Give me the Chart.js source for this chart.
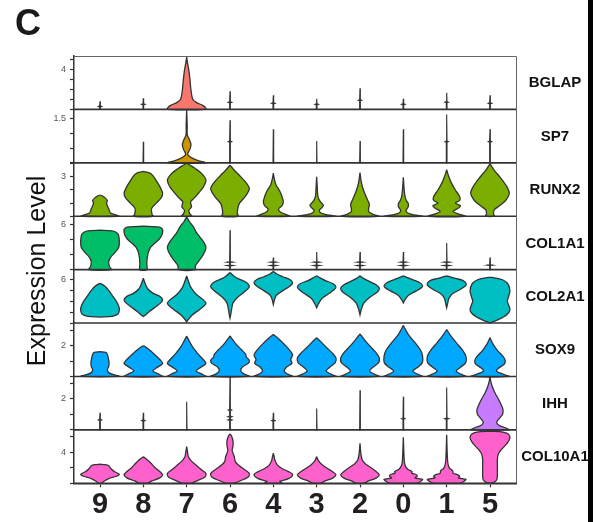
<!DOCTYPE html>
<html>
<head>
<meta charset="utf-8">
<script src="https://cdn.jsdelivr.net/npm/chart.js@4.4.0/dist/chart.umd.min.js"></script>
<style>
  html, body { margin: 0; padding: 0; background: #fff; }
  #plot { display: block; }
</style>
</head>
<body>
<canvas id="plot" width="597" height="522"></canvas>
<script>
const panelLetter = 'C';
const yTitle = 'Expression Level';
const clusters = ['9', '8', '7', '6', '4', '3', '2', '0', '1', '5'];
const genes = ['BGLAP', 'SP7', 'RUNX2', 'COL1A1', 'COL2A1', 'SOX9', 'IHH', 'COL10A1'];
const geneColors = ['#F8766D', '#CD9600', '#7CAE00', '#00BE67', '#00BFC4', '#00A9FF', '#C77CFF', '#FF61CC'];

// per-gene y axis range, tick step and the one tick that gets a label
const yMin = [0, 0, 0, 0, 2, 0, 0, 0];
const yMax = [5.3, 1.82, 4.07, 7.1, 6.9, 3.47, 3.43, 6.83];
const yStep = [1, 0.5, 1, 2, 1, 1, 1, 2];
const yLabelled = [4, 1.5, 3, 6, 6, 2, 2, 4];

// violin outlines: [expression, half width] from bottom to top, one per cluster
const bglapViolins = [
  [[0, 0.008], [0.25, 0.008], [0.3, 0.04], [0.35, 0.008], [0.8, 0]],
  [[0, 0.008], [0.45, 0.008], [0.5, 0.04], [0.55, 0.008], [1.1, 0]],
  [[0, 0.445], [0.2, 0.43], [0.4, 0.37], [0.7, 0.22], [1.0, 0.14], [1.9, 0.1], [3.0, 0.075], [3.9, 0.05], [4.6, 0.02], [5.2, 0]],
  [[0, 0.008], [0.65, 0.008], [0.7, 0.04], [0.75, 0.008], [1.8, 0]],
  [[0, 0.008], [0.55, 0.008], [0.6, 0.04], [0.65, 0.008], [1.4, 0]],
  [[0, 0.008], [0.45, 0.008], [0.5, 0.04], [0.55, 0.008], [1.05, 0]],
  [[0, 0.008], [0.85, 0.008], [0.9, 0.04], [0.95, 0.008], [2.1, 0]],
  [[0, 0.008], [0.45, 0.008], [0.5, 0.04], [0.55, 0.008], [1.05, 0]],
  [[0, 0.008], [0.67, 0.008], [0.72, 0.04], [0.77, 0.008], [1.65, 0]],
  [[0, 0.008], [0.55, 0.008], [0.6, 0.04], [0.65, 0.008], [1.4, 0]]
];
const sp7Violins = [
  null,
  [[0, 0.008], [0.72, 0]],
  [[0, 0.445], [0.06, 0.3], [0.15, 0.14], [0.25, 0.04], [0.32, 0.025], [0.45, 0.07], [0.62, 0.1], [0.8, 0.06], [0.95, 0.015], [1.3, 0.012], [1.79, 0]],
  [[0, 0.008], [0.7, 0.008], [0.72, 0.04], [0.74, 0.008], [1.45, 0]],
  [[0, 0.008], [1.14, 0]],
  [[0, 0.008], [0.74, 0]],
  [[0, 0.008], [0.74, 0]],
  [[0, 0.008], [1.14, 0]],
  [[0, 0.008], [0.7, 0.008], [0.72, 0.04], [0.74, 0.008], [1.65, 0]],
  [[0, 0.008], [0.7, 0.008], [0.72, 0.04], [0.74, 0.008], [1.14, 0]]
];
const runx2Violins = [
  [[0, 0.44], [0.1, 0.36], [0.25, 0.24], [0.5, 0.21], [0.8, 0.17], [1.0, 0.15], [1.2, 0.17], [1.4, 0.12], [1.55, 0.05], [1.62, 0]],
  [[0, 0.23], [0.15, 0.2], [0.6, 0.19], [1.0, 0.3], [1.4, 0.41], [1.75, 0.445], [2.2, 0.39], [2.7, 0.3], [3.1, 0.22], [3.3, 0.14], [3.42, 0]],
  [[0, 0.12], [0.2, 0.07], [0.45, 0.05], [0.7, 0.11], [0.9, 0.1], [1.1, 0.09], [1.4, 0.18], [1.75, 0.27], [2.2, 0.38], [2.75, 0.445], [3.25, 0.35], [3.65, 0.19], [3.9, 0.07], [4.05, 0]],
  [[0, 0.19], [0.2, 0.17], [0.6, 0.18], [1.0, 0.22], [1.5, 0.35], [2.1, 0.445], [2.6, 0.36], [3.1, 0.22], [3.5, 0.1], [3.9, 0]],
  [[0, 0.38], [0.12, 0.3], [0.3, 0.17], [0.55, 0.12], [0.8, 0.2], [1.1, 0.23], [1.5, 0.2], [1.9, 0.15], [2.4, 0.06], [2.9, 0.02], [3.28, 0]],
  [[0, 0.44], [0.1, 0.25], [0.25, 0.1], [0.45, 0.06], [0.65, 0.12], [0.85, 0.155], [1.05, 0.1], [1.3, 0.05], [1.6, 0.025], [2.3, 0.012], [3.0, 0]],
  [[0, 0.43], [0.15, 0.3], [0.35, 0.2], [0.6, 0.2], [0.9, 0.215], [1.2, 0.18], [1.5, 0.14], [2.0, 0.08], [2.6, 0.03], [3.33, 0]],
  [[0, 0.44], [0.1, 0.25], [0.25, 0.1], [0.45, 0.06], [0.7, 0.11], [0.95, 0.115], [1.2, 0.07], [1.5, 0.04], [2.0, 0.02], [2.97, 0]],
  [[0, 0.43], [0.15, 0.3], [0.35, 0.15], [0.6, 0.26], [0.8, 0.32], [1.0, 0.2], [1.2, 0.3], [1.5, 0.3], [2.0, 0.2], [2.6, 0.1], [3.1, 0.04], [3.54, 0]],
  [[0, 0.1], [0.2, 0.08], [0.5, 0.1], [0.8, 0.22], [1.2, 0.36], [1.75, 0.445], [2.3, 0.38], [2.9, 0.25], [3.5, 0.1], [4.0, 0]]
];
const col1a1Violins = [
  [[0, 0.26], [0.4, 0.22], [1.0, 0.2], [1.6, 0.24], [2.3, 0.35], [2.9, 0.43], [3.5, 0.445], [4.2, 0.44], [4.7, 0.42], [5.0, 0.36], [5.15, 0.28], [5.25, 0]],
  [[0, 0.08], [0.8, 0.08], [1.6, 0.09], [2.4, 0.12], [3.0, 0.17], [3.5, 0.26], [4.0, 0.36], [4.5, 0.42], [5.0, 0.445], [5.4, 0.44], [5.65, 0.37], [5.78, 0]],
  [[0, 0.19], [0.5, 0.2], [1.0, 0.26], [1.7, 0.35], [2.4, 0.42], [3.0, 0.445], [3.6, 0.4], [4.3, 0.31], [5.0, 0.22], [5.7, 0.155], [6.4, 0.06], [7.0, 0]],
  [[0, 0.008], [0.5, 0.008], [0.55, 0.07], [0.6, 0.008], [0.95, 0.008], [1.0, 0.07], [1.05, 0.008], [5.24, 0]],
  [[0, 0.008], [0.5, 0.008], [0.55, 0.07], [0.6, 0.008], [0.95, 0.008], [1.0, 0.07], [1.05, 0.008], [1.6, 0]],
  [[0, 0.008], [0.5, 0.008], [0.55, 0.07], [0.6, 0.008], [0.95, 0.008], [1.0, 0.07], [1.05, 0.008], [2.35, 0]],
  [[0, 0.008], [0.5, 0.008], [0.55, 0.07], [0.6, 0.008], [0.95, 0.008], [1.0, 0.07], [1.05, 0.008], [2.35, 0]],
  [[0, 0.008], [0.5, 0.008], [0.55, 0.07], [0.6, 0.008], [0.95, 0.008], [1.0, 0.07], [1.05, 0.008], [2.35, 0]],
  [[0, 0.008], [0.5, 0.008], [0.55, 0.07], [0.6, 0.008], [0.95, 0.008], [1.0, 0.07], [1.05, 0.008], [3.55, 0]],
  [[0, 0.008], [0.55, 0.008], [0.6, 0.07], [0.65, 0.008], [1.6, 0]]
];
const col2a1Violins = [
  [[2.55, 0], [2.62, 0.28], [2.8, 0.41], [3.15, 0.445], [3.45, 0.44], [3.95, 0.385], [4.55, 0.28], [5.05, 0.19], [5.35, 0.12], [5.55, 0.05], [5.65, 0]],
  [[2.6, 0], [2.75, 0.05], [3.05, 0.14], [3.45, 0.27], [3.85, 0.4], [4.15, 0.445], [4.45, 0.38], [4.75, 0.22], [5.15, 0.1], [5.65, 0.04], [6.12, 0]],
  [[2.1, 0], [2.35, 0.04], [2.75, 0.13], [3.25, 0.3], [3.65, 0.42], [3.85, 0.445], [4.15, 0.38], [4.65, 0.22], [5.25, 0.1], [5.85, 0.04], [6.33, 0]],
  [[2.45, 0], [2.85, 0.02], [3.35, 0.04], [3.85, 0.07], [4.35, 0.17], [4.85, 0.33], [5.35, 0.445], [5.75, 0.37], [6.05, 0.2], [6.35, 0.08], [6.65, 0]],
  [[3.7, 0], [4.05, 0.02], [4.55, 0.07], [5.05, 0.25], [5.45, 0.4], [5.7, 0.445], [6.0, 0.38], [6.25, 0.22], [6.5, 0.08], [6.74, 0]],
  [[3.4, 0], [3.75, 0.04], [4.25, 0.12], [4.75, 0.3], [5.05, 0.4], [5.3, 0.445], [5.6, 0.38], [5.9, 0.2], [6.15, 0.08], [6.33, 0]],
  [[2.75, 0], [3.25, 0.03], [3.85, 0.09], [4.35, 0.22], [4.85, 0.4], [5.15, 0.445], [5.5, 0.38], [5.85, 0.2], [6.1, 0.08], [6.33, 0]],
  [[3.85, 0], [4.15, 0.04], [4.55, 0.12], [4.95, 0.3], [5.25, 0.42], [5.4, 0.445], [5.7, 0.38], [6.0, 0.2], [6.2, 0.08], [6.33, 0]],
  [[3.4, 0], [3.75, 0.02], [4.25, 0.05], [4.65, 0.12], [5.05, 0.3], [5.45, 0.44], [5.65, 0.445], [5.9, 0.38], [6.1, 0.2], [6.25, 0.07], [6.33, 0]],
  [[2.0, 0], [2.25, 0.15], [2.55, 0.31], [2.95, 0.43], [3.25, 0.46], [3.65, 0.43], [4.0, 0.4], [4.45, 0.43], [4.95, 0.46], [5.55, 0.42], [5.95, 0.3], [6.15, 0.1], [6.2, 0]]
];
const sox9Violins = [
  [[0, 0.445], [0.1, 0.33], [0.25, 0.2], [0.45, 0.17], [0.65, 0.2], [0.9, 0.21], [1.2, 0.19], [1.45, 0.17], [1.56, 0.13], [1.62, 0]],
  [[0, 0.445], [0.15, 0.35], [0.35, 0.22], [0.55, 0.3], [0.85, 0.445], [1.1, 0.38], [1.4, 0.27], [1.7, 0.15], [1.9, 0.06], [2.0, 0]],
  [[0, 0.445], [0.15, 0.35], [0.35, 0.22], [0.55, 0.3], [0.85, 0.445], [1.1, 0.38], [1.5, 0.25], [1.9, 0.14], [2.3, 0.06], [2.63, 0]],
  [[0, 0.445], [0.15, 0.33], [0.35, 0.25], [0.6, 0.28], [0.85, 0.42], [1.05, 0.445], [1.25, 0.38], [1.45, 0.36], [1.75, 0.26], [2.1, 0.14], [2.4, 0.06], [2.63, 0]],
  [[0, 0.445], [0.15, 0.33], [0.35, 0.25], [0.6, 0.3], [0.85, 0.43], [1.1, 0.4], [1.4, 0.445], [1.7, 0.38], [2.1, 0.25], [2.45, 0.12], [2.73, 0]],
  [[0, 0.445], [0.15, 0.33], [0.35, 0.22], [0.6, 0.3], [0.9, 0.43], [1.2, 0.445], [1.5, 0.37], [1.9, 0.22], [2.25, 0.1], [2.52, 0]],
  [[0, 0.445], [0.15, 0.33], [0.35, 0.22], [0.6, 0.3], [0.9, 0.43], [1.2, 0.445], [1.55, 0.37], [2.0, 0.22], [2.4, 0.1], [2.77, 0]],
  [[0, 0.445], [0.15, 0.33], [0.35, 0.22], [0.6, 0.33], [0.9, 0.44], [1.3, 0.445], [1.7, 0.4], [2.2, 0.27], [2.7, 0.12], [3.1, 0.04], [3.32, 0]],
  [[0, 0.445], [0.15, 0.33], [0.35, 0.22], [0.6, 0.32], [0.9, 0.44], [1.3, 0.445], [1.7, 0.37], [2.2, 0.22], [2.7, 0.08], [3.05, 0]],
  [[0, 0.445], [0.15, 0.3], [0.35, 0.15], [0.55, 0.2], [0.8, 0.33], [1.05, 0.35], [1.3, 0.3], [1.7, 0.17], [2.1, 0.07], [2.52, 0]]
];
const ihhViolins = [
  [[0, 0.008], [0.6, 0.008], [0.64, 0.04], [0.68, 0.008], [1.1, 0]],
  [[0, 0.008], [0.56, 0.008], [0.6, 0.04], [0.64, 0.008], [1.1, 0]],
  [[0, 0.008], [1.8, 0]],
  [[0, 0.008], [0.6, 0.008], [0.64, 0.05], [0.68, 0.008], [0.81, 0.008], [0.85, 0.05], [0.89, 0.008], [1.23, 0.008], [1.27, 0.04], [1.31, 0.008], [3.4, 0]],
  [[0, 0.008], [0.56, 0.008], [0.6, 0.04], [0.64, 0.008], [1.1, 0]],
  [[0, 0.008], [1.38, 0]],
  [[0, 0.008], [2.55, 0]],
  [[0, 0.008], [0.68, 0.008], [0.72, 0.04], [0.76, 0.008], [2.12, 0]],
  [[0, 0.008], [0.68, 0.008], [0.72, 0.05], [0.76, 0.008], [2.72, 0]],
  [[0, 0.445], [0.1, 0.38], [0.3, 0.2], [0.5, 0.155], [0.75, 0.22], [1.0, 0.29], [1.3, 0.3], [1.6, 0.26], [2.0, 0.19], [2.4, 0.11], [2.8, 0.05], [3.1, 0.02], [3.4, 0]]
];
const col10a1Violins = [
  [[0, 0.03], [0.3, 0.1], [0.6, 0.2], [0.9, 0.38], [1.15, 0.445], [1.5, 0.33], [1.9, 0.25], [2.25, 0.2], [2.38, 0.12], [2.45, 0]],
  [[0, 0.08], [0.3, 0.2], [0.7, 0.38], [1.05, 0.445], [1.5, 0.38], [2.0, 0.27], [2.6, 0.17], [3.1, 0.07], [3.41, 0]],
  [[0, 0.1], [0.35, 0.25], [0.8, 0.42], [1.25, 0.445], [1.7, 0.35], [2.3, 0.22], [2.9, 0.1], [3.4, 0.04], [4.0, 0.02], [4.69, 0]],
  [[0, 0.07], [0.35, 0.25], [0.8, 0.42], [1.25, 0.445], [1.7, 0.35], [2.3, 0.2], [2.8, 0.12], [3.4, 0.1], [4.2, 0.05], [4.8, 0.07], [5.4, 0.07], [6.0, 0.04], [6.32, 0]],
  [[0, 0.2], [0.25, 0.15], [0.6, 0.35], [1.1, 0.445], [1.5, 0.35], [1.9, 0.2], [2.3, 0.1], [2.9, 0.04], [3.4, 0.02], [3.85, 0]],
  [[0, 0.08], [0.3, 0.2], [0.7, 0.38], [1.1, 0.445], [1.5, 0.36], [1.9, 0.25], [2.4, 0.12], [2.9, 0.04], [3.41, 0]],
  [[0, 0.08], [0.3, 0.2], [0.7, 0.38], [1.1, 0.445], [1.5, 0.37], [2.0, 0.25], [2.5, 0.12], [3.0, 0.05], [3.8, 0.02], [5.13, 0]],
  [[0, 0.3], [0.25, 0.4], [0.5, 0.445], [0.7, 0.27], [0.9, 0.32], [1.1, 0.3], [1.3, 0.19], [1.5, 0.2], [1.8, 0.1], [2.3, 0.04], [3.0, 0.02], [5.9, 0]],
  [[0, 0.3], [0.25, 0.4], [0.5, 0.445], [0.7, 0.27], [0.9, 0.3], [1.1, 0.25], [1.3, 0.15], [1.6, 0.14], [1.9, 0.07], [2.5, 0.03], [3.5, 0.015], [6.2, 0]],
  [[0, 0], [0.15, 0.1], [0.5, 0.16], [1.2, 0.17], [2.0, 0.17], [3.0, 0.17], [3.7, 0.19], [4.3, 0.26], [5.0, 0.38], [5.5, 0.44], [5.9, 0.46], [6.3, 0.42], [6.55, 0.3], [6.65, 0]]
];
const violinsByGene = [bglapViolins, sp7Violins, runx2Violins, col1a1Violins, col2a1Violins, sox9Violins, ihhViolins, col10a1Violins];

const FONT = '"Liberation Sans", Arial, Helvetica, sans-serif';
Chart.defaults.font.family = FONT;

// each violin becomes one closed outline: down the right side, back up the left
const datasets = [];
genes.forEach((gene, g) => {
  violinsByGene[g].forEach((profile, i) => {
    if (!profile) return;
    const right = profile.map(([y, w]) => ({x: i + w, y: y})).reverse();
    const left = profile.map(([y, w]) => ({x: i - w, y: y}));
    const widest = Math.max(...profile.map(p => p[1]));
    const stick = widest < 0.1;
    datasets.push({
      label: gene + ' ' + clusters[i],
      data: right.concat(left),
      yAxisID: 'y' + g,
      backgroundColor: geneColors[g],
      borderColor: '#333',
      borderWidth: stick ? 1.1 : 1.3,
      fill: 'shape',
      tension: stick ? 0 : 0.3,
      pointRadius: 0,
      clip: 4
    });
  });
});

const scales = {
  x: {
    type: 'linear',
    position: 'bottom',
    min: -0.6,
    max: 9.6,
    border: {display: true, color: '#333', width: 1.5},
    grid: {display: true, drawOnChartArea: false, tickLength: 4, tickColor: '#333', tickWidth: 1.2},
    ticks: {
      autoSkip: false,
      maxRotation: 0,
      padding: 0,
      color: '#231f20',
      font: {size: 29, weight: 'bold'},
      callback: v => clusters[v] ?? ''
    },
    afterBuildTicks: axis => { axis.ticks = clusters.map((c, i) => ({value: i})); },
    afterFit: axis => { axis.height = 38.7; }
  }
};
// left axes in one stack; later entries sit higher, so add them bottom-up
for (let g = genes.length - 1; g >= 0; g--) {
  scales['y' + g] = {
    type: 'linear',
    position: 'left',
    stack: 'genes',
    stackWeight: 1,
    min: yMin[g],
    max: yMax[g],
    border: {display: true, color: '#333', width: 1.5},
    grid: {display: true, drawOnChartArea: false, tickLength: 4, tickColor: '#333', tickWidth: 1.2},
    ticks: {
      stepSize: yStep[g],
      includeBounds: false,
      autoSkip: false,
      padding: 4,
      color: '#555',
      font: {size: 9},
      callback: v => Math.abs(v - yLabelled[g]) < 1e-6 ? String(yLabelled[g]) : ''
    },
    afterFit: axis => { axis.width = 34; }
  };
}

const panelFrame = {
  id: 'panelFrame',
  afterDatasetsDraw(chart) {
    const {ctx, chartArea: a} = chart;
    ctx.save();
    ctx.strokeStyle = '#666';
    ctx.lineWidth = 1;
    ctx.beginPath();
    ctx.moveTo(a.left, a.top + 0.5);
    ctx.lineTo(a.right + 0.5, a.top + 0.5);
    ctx.lineTo(a.right + 0.5, a.bottom);
    ctx.stroke();
    ctx.strokeStyle = '#333';
    ctx.lineWidth = 1.6;
    genes.forEach((gene, g) => {
      const s = chart.scales['y' + g];
      ctx.beginPath();
      ctx.moveTo(a.left, s.bottom);
      ctx.lineTo(a.right, s.bottom);
      ctx.stroke();
    });
    ctx.restore();
  }
};

const decorations = {
  id: 'decorations',
  afterDraw(chart) {
    const {ctx, chartArea: a} = chart;
    ctx.save();
    ctx.fillStyle = '#1a1a1a';
    ctx.textAlign = 'left';
    ctx.textBaseline = 'alphabetic';
    ctx.font = 'bold 36px ' + FONT;
    ctx.fillText(panelLetter, 15, 35);

    ctx.fillStyle = '#111';
    ctx.textAlign = 'center';
    ctx.textBaseline = 'middle';
    ctx.font = 'bold 15px ' + FONT;
    genes.forEach((gene, g) => {
      const s = chart.scales['y' + g];
      ctx.fillText(gene, a.right + 39, (s.top + s.bottom) / 2 + 0.5);
    });

    ctx.save();
    ctx.translate(45, 271);
    ctx.rotate(-Math.PI / 2);
    ctx.textBaseline = 'alphabetic';
    ctx.font = '25px ' + FONT;
    ctx.fillText(yTitle, 0, 0);
    ctx.restore();

    ctx.fillStyle = '#000';
    ctx.fillRect(588, 0, 5, chart.height);
    ctx.restore();
  }
};

new Chart(document.getElementById('plot'), {
  type: 'line',
  data: {datasets},
  options: {
    responsive: false,
    animation: false,
    devicePixelRatio: 1,
    layout: {padding: {top: 56, left: 40, right: 81, bottom: 0}},
    plugins: {legend: {display: false}, tooltip: {enabled: false}},
    scales
  },
  plugins: [panelFrame, decorations]
});
</script>
</body>
</html>
